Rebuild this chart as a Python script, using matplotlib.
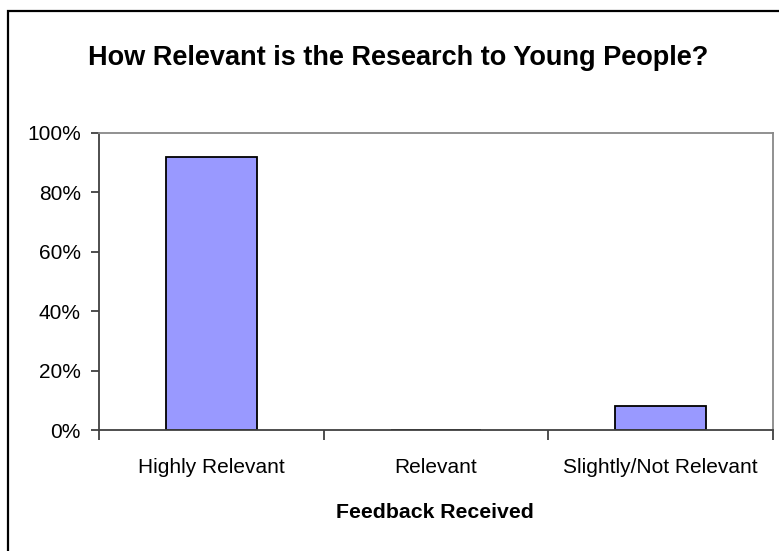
import matplotlib.pyplot as plt
from matplotlib.patches import Rectangle
from matplotlib.ticker import FixedLocator, NullFormatter

# Data
categories = ['Highly Relevant', 'Relevant', 'Slightly/Not Relevant']
values = [92, 0, 8]
y_ticks = [0, 20, 40, 60, 80, 100]
y_labels = ['0%', '20%', '40%', '60%', '80%', '100%']

plt.rcParams['font.family'] = ['Liberation Sans', 'DejaVu Sans']

W, H = 779, 551
fig = plt.figure(figsize=(W / 100, H / 100), dpi=100)

# outer chart frame (runs off the right/bottom edge like the original)
fig.patches.append(Rectangle((8 / W, -0.1), 1.2, 1 - 11 / H + 0.1,
                             transform=fig.transFigure, fill=False,
                             edgecolor='black', linewidth=1.6))

ax = fig.add_axes([99 / W, 1 - 430 / H, (773 - 99) / W, (430 - 133) / H])

x = range(len(categories))
ax.bar(x, values, width=0.405, color='#9999ff', edgecolor='black', linewidth=1.3)

ax.set_xlim(-0.5, len(categories) - 0.5)
ax.set_ylim(0, 100)
ax.set_yticks(y_ticks)
ax.set_yticklabels(y_labels, fontsize=15)
ax.set_xticks(list(x))
ax.set_xticklabels(categories, fontsize=15)
ax.tick_params(axis='x', length=0, pad=20)
ax.xaxis.set_minor_locator(FixedLocator([-0.5, 0.5, 1.5, 2.5]))
ax.xaxis.set_minor_formatter(NullFormatter())
ax.tick_params(axis='x', which='minor', length=7, width=1.2, color='#303030', direction='out')
ax.tick_params(axis='y', length=6, width=1.2, color='#303030', direction='out', pad=7)

for side in ['left', 'bottom']:
    ax.spines[side].set_color('#404040')
    ax.spines[side].set_linewidth(1.3)
for side in ['top', 'right']:
    ax.spines[side].set_color('#888888')
    ax.spines[side].set_linewidth(1.3)

fig.text(398 / W, 1 - 58 / H, 'How Relevant is the Research to Young People?',
         ha='center', va='center', fontsize=19.5, fontweight='bold')
fig.text(435 / W, 1 - 513 / H, 'Feedback Received',
         ha='center', va='center', fontsize=15.3, fontweight='bold')

fig.savefig('out.png', dpi=100)
